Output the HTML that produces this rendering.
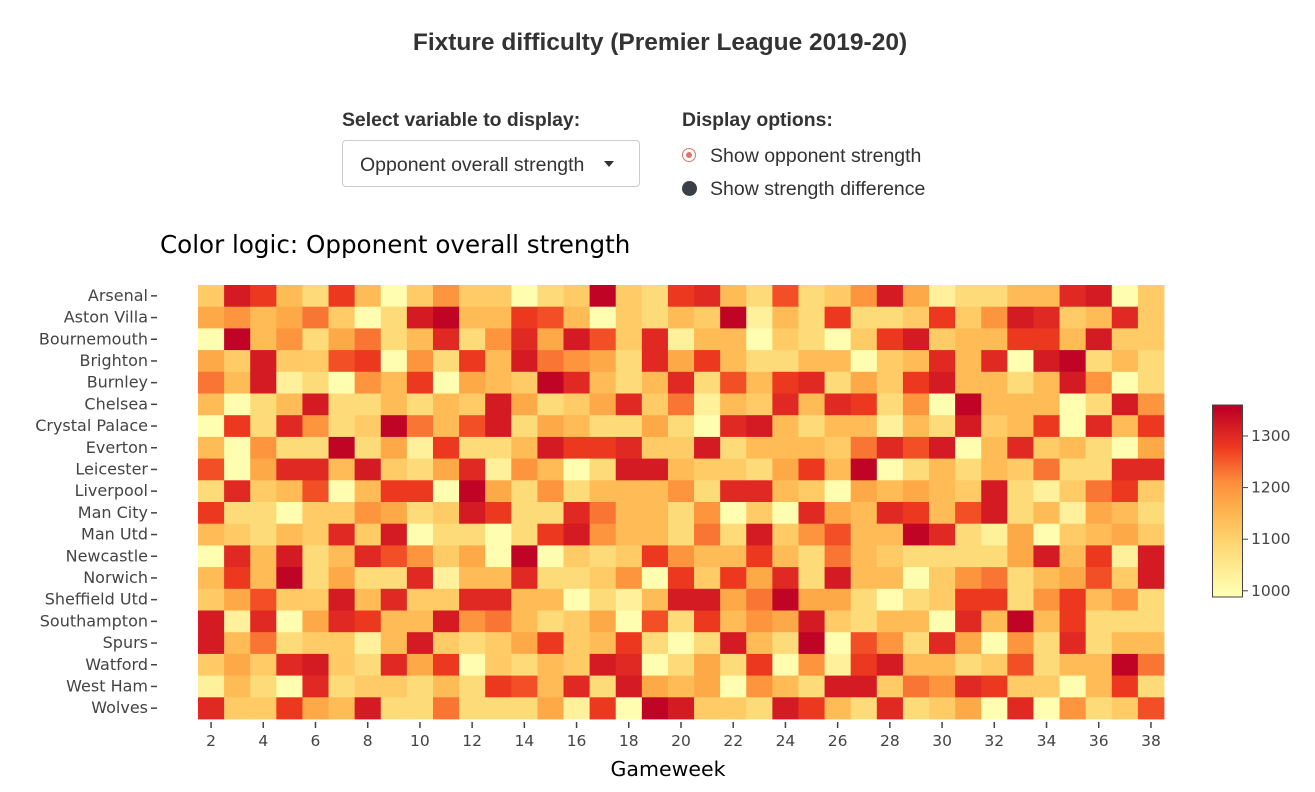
<!DOCTYPE html>
<html><head><meta charset="utf-8">
<style>
body{margin:0;width:1315px;height:792px;background:#fff;font-family:"Liberation Sans",Arial,sans-serif;color:#333;position:relative;overflow:hidden}
.abs{position:absolute}
#title{left:0;width:1320px;top:29px;text-align:center;font-size:24.5px;font-weight:bold;color:#333}
.lbl{font-size:19.4px;font-weight:bold;color:#333}
#sel{left:342px;top:140px;width:298px;height:47px;border:1px solid #ccc;border-radius:4px;box-sizing:border-box;font-size:19.5px;color:#333}
#sel span{position:absolute;left:17px;top:13px}
#sel i{position:absolute;left:261px;top:20px;width:0;height:0;border-left:5px solid transparent;border-right:5px solid transparent;border-top:6px solid #333}
.opt{font-size:19.5px;color:#333}
</style></head><body>
<div id="title" class="abs">Fixture difficulty (Premier League 2019-20)</div>
<div class="abs lbl" style="left:342px;top:109px">Select variable to display:</div>
<div id="sel" class="abs"><span>Opponent overall strength</span><i></i></div>
<div class="abs lbl" style="left:682px;top:109px">Display options:</div>
<div class="abs" style="left:682px;top:148px;width:14px;height:14px;border-radius:50%;border:1px solid #d9776c;box-sizing:border-box"><div style="position:absolute;left:3px;top:3px;width:6px;height:6px;border-radius:50%;background:#d9776c"></div></div>
<div class="abs opt" style="left:710px;top:145px">Show opponent strength</div>
<div class="abs" style="left:682px;top:181px;width:15px;height:15px;border-radius:50%;background:#3b3f46"></div>
<div class="abs opt" style="left:710px;top:178px">Show strength difference</div>
<svg id="chart" class="abs" style="left:0;top:0" width="1315" height="792"></svg>
<script>
const teams=["Arsenal","Aston Villa","Bournemouth","Brighton","Burnley","Chelsea","Crystal Palace","Everton","Leicester","Liverpool","Man City","Man Utd","Newcastle","Norwich","Sheffield Utd","Southampton","Spurs","Watford","West Ham","Wolves"];
const gameweeks=[];for(let g=2;g<=38;g++)gameweeks.push(g);
const xTicks=[2,4,6,8,10,12,14,16,18,20,22,24,26,28,30,32,34,36,38];
const cbTicks=[1000,1100,1200,1300];
const levels={A:1000,B:1030,C:1080,D:1110,E:1140,F:1170,G:1200,H:1230,I:1260,J:1280,K:1300,L:1320,M:1350};
const rowCodes=[
"DLJECJEADG"+"DDACDMDCJ"+"KECICDGLF"+"BCCEEKLAD",
"FGEFHDACLM"+"EEJIEADCE"+"DMBECJCCD"+"JDGLKDEKD",
"AMEGCFHCEK"+"CGKFLIDKB"+"EEADCADJL"+"DEEJJELDD",
"FDLDDIJAGC"+"JELHGFCKF"+"JECCEEADE"+"KEKALMCEC",
"HELBCAGEJA"+"FEDMKECEK"+"CIEJKCFDJ"+"LEECELGAC",
"EACELCCECE"+"DLFCDFKDH"+"BEDKEKJCG"+"AMEEEACLG",
"AJCKGCDMHE"+"ILCFECCFC"+"AKLECEEBE"+"CLDEJAKEJ",
"EAGCCMCFBJ"+"CCELJJKDD"+"LCEEEDHKI"+"LAEKDECAF",
"IAFKKELDCF"+"KBGEACLLE"+"DDCFJEMAC"+"ECEDHCCKK",
"CKDEIAEJJA"+"MFCGCEEEG"+"CKKEDAFEF"+"EDLCBDHJD",
"JCCADDGFCD"+"LJCCKHEEC"+"GADAKFEKJ"+"EILCEBFEC",
"EDCEDKDLAC"+"CACJLGEEC"+"HCLDGIEEM"+"KCBFADEFD",
"AKELCEKIGD"+"FAMADCDJG"+"EEJECHEDC"+"CCCFLEJBL",
"EJEMCFCCKB"+"EEKCCDGAJ"+"DJFKCLEEA"+"DGHCEFIDL",
"DFIDDLEKDD"+"KKEEACBEL"+"LFHMFFCAC"+"DJJCGJEGC",
"LBKAFKJEEL"+"GHECDFAIC"+"JEGFLDCEE"+"AKEMEJCCC",
"LEHCDDBELD"+"CDFJDEJCA"+"CLECMAIGC"+"KFAGCKCEE",
"DFDKLDCKFJ"+"ADCEDLKAC"+"FCJAGBJLE"+"ECDICEEMH",
"BECAKCDDCE"+"CJIEKCLFE"+"FAGECLLDH"+"GKJDDAEJC",
"KDDJFELCCH"+"CCCFBJAML"+"DDCLJECKC"+"DFAKAGCDI"];
const values=rowCodes.map(r=>r.split("").map(c=>levels[c]));

const NS="http://www.w3.org/2000/svg";
const svg=document.getElementById("chart");
const X0=198,X1=1164,Y0=285,Y1=719;
const cw=(X1-X0)/gameweeks.length, rh=(Y1-Y0)/teams.length;
const xPos=g=>X0+(gameweeks.indexOf(g)+0.5)*cw;
const yPos=i=>Y0+(i+0.5)*rh;
const stops=[[0,[255,255,178]],[0.25,[254,217,118]],[0.45,[254,178,76]],[0.6,[253,141,60]],[0.78,[240,59,32]],[1,[189,0,38]]];
const ZMIN=995,ZMAX=1355;
function color(v){let t=Math.max(0,Math.min(1,(v-ZMIN)/(ZMAX-ZMIN)));
 for(let i=1;i<stops.length;i++){if(t<=stops[i][0]){const a=stops[i-1],b=stops[i];const f=(t-a[0])/(b[0]-a[0]);
 return "rgb("+a[1].map((c,k)=>Math.round(c+(b[1][k]-c)*f)).join(",")+")";}}return "rgb(189,0,38)";}
function el(tag,attrs){const e=document.createElementNS(NS,tag);for(const k in attrs)e.setAttribute(k,attrs[k]);svg.appendChild(e);return e;}

const pt=el("text",{x:160,y:253,"font-size":"24.6","font-family":"DejaVu Sans, sans-serif",fill:"#000"});
pt.textContent="Color logic: Opponent overall strength";



values.forEach((row,i)=>{row.forEach((v,j)=>{const g=gameweeks[j];
 const r=el("rect",{x:(xPos(g)-cw/2).toFixed(2),y:(yPos(i)-rh/2).toFixed(2),width:(cw+0.4).toFixed(2),height:(rh+0.4).toFixed(2),fill:color(v)});
 
 
});});

teams.forEach((t,i)=>{const y=yPos(i);
 const tx=el("text",{x:148,y:y+5,"text-anchor":"end","font-size":"16","font-family":"DejaVu Sans, sans-serif",fill:"#444"});
 tx.textContent=t;
 
 
 el("line",{x1:151,x2:157,y1:y,y2:y,stroke:"#444","stroke-width":1.5});
});
xTicks.forEach(g=>{const x=xPos(g);
 el("line",{x1:x,x2:x,y1:722,y2:728,stroke:"#444","stroke-width":1.5});
 const tx=el("text",{x:x,y:746,"text-anchor":"middle","font-size":"15.5","font-family":"DejaVu Sans, sans-serif",fill:"#444"});
 tx.textContent=g;
 
 
});
const xt=el("text",{x:668,y:776,"text-anchor":"middle","font-size":"20.5","font-family":"DejaVu Sans, sans-serif",fill:"#000"});
xt.textContent="Gameweek";



const CB0=405,CB1=597,CBV0=988,CBV1=1360;
const cbY=v=>CB1-(v-CBV0)/(CBV1-CBV0)*(CB1-CB0);
for(let p=0;p<192;p++){const v=CBV0+(CBV1-CBV0)*(p/192);
 el("rect",{x:1213,y:(CB1-p-1),width:29,height:1.5,fill:color(v)});}
const cbb=el("rect",{x:1212.5,y:CB0,width:30,height:CB1-CB0,fill:"none",stroke:"#444","stroke-width":1});


cbTicks.forEach(v=>{const y=cbY(v);
 el("line",{x1:1243,x2:1248,y1:y,y2:y,stroke:"#444"});
 const tx=el("text",{x:1251,y:y+5,"font-size":"15.5","font-family":"DejaVu Sans, sans-serif",fill:"#444"});
 tx.textContent=v;
 
 
});
</script>
</body></html>
